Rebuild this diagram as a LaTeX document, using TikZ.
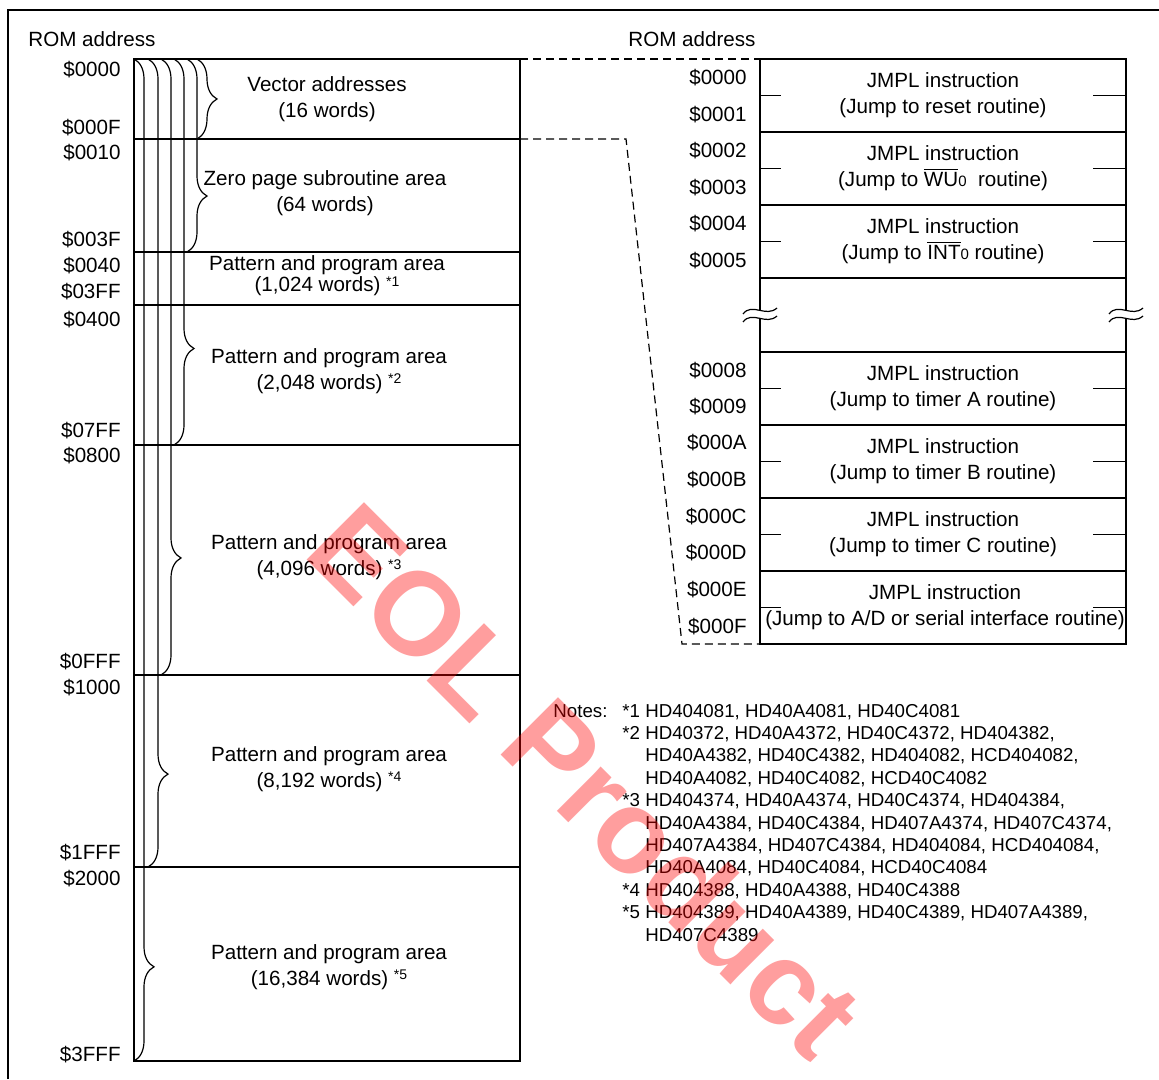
\documentclass[tikz,border=0pt]{standalone}
\usepackage{fontspec}
\setmainfont{Liberation Sans}
\usepackage{tikz}
\usetikzlibrary{decorations.pathreplacing, calc}
\definecolor{eolred}{RGB}{255,0,0}
\newcommand{\romfont}{\fontsize{10.3}{12.8}\selectfont}
\newcommand{\notefont}{\fontsize{9.35}{11.2}\selectfont}
\newcommand{\starref}[1]{\raisebox{0.5ex}{\fontsize{7}{8}\selectfont *#1}}
\newcommand{\smallzero}{{\fontsize{7.5}{8}\selectfont 0}}

\begin{document}
\begin{tikzpicture}[x=0.5pt, y=-0.5pt,
  romline/.style={line width=0.6pt},
  romtext/.style={font=\romfont, align=center, inner sep=0pt},
  addr/.style={font=\romfont, anchor=east, inner sep=0pt},
  areabrace/.style={romline, decorate, decoration={brace, amplitude=10pt, aspect=#1}},
  linkline/.style={romline, dash pattern=on 4pt off 2.5pt},
  tick/.style={romline}]
  \useasboundingbox (0,0) rectangle (1159,1079);
  \draw[line width=1pt] (8,1079) -- (8,10) -- (1159,10);

  \node[font=\romfont, anchor=west, inner sep=0pt] (romleft) at (28,39) {ROM address};
  \node[font=\romfont, anchor=west, inner sep=0pt] (romright) at (628,39) {ROM address};

  % ROM map
  \draw[romline] (134,59) rectangle (520,1061);
  \draw[romline] (134,139) -- (520,139);
  \draw[romline] (134,252) -- (520,252);
  \draw[romline] (134,305) -- (520,305);
  \draw[romline] (134,445) -- (520,445);
  \draw[romline] (134,675) -- (520,675);
  \draw[romline] (134,867) -- (520,867);
  \coordinate (mapne) at (520,59);
  \coordinate (mapvec) at (520,139);

  \draw[areabrace=0.5] (197,59) -- (197,139);
  \draw[areabrace=0.71] (187,59) -- (187,252);
  \draw[areabrace=0.75] (174,59) -- (174,445);
  \draw[areabrace=0.81] (161,59) -- (161,675);
  \draw[areabrace=0.885] (148,59) -- (148,867);
  \draw[areabrace=0.906] (134,59) -- (134,1061);

  \node[romtext] (vec) at (327,99) {Vector addresses\\(16 words)};
  \node[romtext] (zero) at (325,193) {Zero page subroutine area\\(64 words)};
  \node[romtext, font=\fontsize{10.3}{10.5}\selectfont] (pa1) at (327,276) {Pattern and program area\\(1,024 words) \starref{1}};
  \node[romtext] (pa2) at (329,371) {Pattern and program area\\(2,048 words) \starref{2}};
  \node[romtext] (pa3) at (329,557) {Pattern and program area\\(4,096 words) \starref{3}};
  \node[romtext] (pa4) at (329,769) {Pattern and program area\\(8,192 words) \starref{4}};
  \node[romtext] (pa5) at (329,967) {Pattern and program area\\(16,384 words) \starref{5}};

  \node[addr] (m0000) at (121,70) {\$0000};
  \node[addr] (m000F) at (121,128) {\$000F};
  \node[addr] (m0010) at (121,153) {\$0010};
  \node[addr] (m003F) at (121,240) {\$003F};
  \node[addr] (m0040) at (121,266) {\$0040};
  \node[addr] (m03FF) at (121,292) {\$03FF};
  \node[addr] (m0400) at (121,320) {\$0400};
  \node[addr] (m07FF) at (121,431) {\$07FF};
  \node[addr] (m0800) at (121,456) {\$0800};
  \node[addr] (m0FFF) at (121,662) {\$0FFF};
  \node[addr] (m1000) at (121,688) {\$1000};
  \node[addr] (m1FFF) at (121,853) {\$1FFF};
  \node[addr] (m2000) at (121,879) {\$2000};
  \node[addr] (m3FFF) at (121,1055) {\$3FFF};

  % vector table
  \draw[romline] (760,59) rectangle (1126,644);
  \draw[romline] (760,132) -- (1126,132);
  \draw[romline] (760,205) -- (1126,205);
  \draw[romline] (760,278) -- (1126,278);
  \draw[romline] (760,352) -- (1126,352);
  \draw[romline] (760,425) -- (1126,425);
  \draw[romline] (760,498) -- (1126,498);
  \draw[romline] (760,571) -- (1126,571);
  \coordinate (vecnw) at (760,59);
  \coordinate (vecsw) at (760,644);
  \coordinate (bendtop) at (626,139);
  \coordinate (bendbot) at (682,644);

  \foreach \y in {95.5,168.5,241.5,388.5,461.5,534.5,607.5} {
    \draw[tick] (760,\y) -- (781,\y);
    \draw[tick] (1093,\y) -- (1126,\y);
  }

  \foreach \cx in {760,1126} {
    \begin{scope}[shift={(\cx,314)}]
      \fill[white] (-17,0) .. controls (-8,-12) and (6,4) .. (17,-6) -- (17,2) .. controls (6,12) and (-8,-4) .. (-17,8) -- cycle;
      \draw[romline] (-17,0) .. controls (-8,-12) and (6,4) .. (17,-6);
      \draw[romline] (-17,8) .. controls (-8,-4) and (6,12) .. (17,2);
    \end{scope}
  }

  \node[romtext] (jreset) at (943,95) {JMPL instruction\\(Jump to reset routine)};
  \node[romtext] (jwu) at (943,168) {JMPL instruction\\(Jump to $\overline{\mbox{WU}}$\smallzero\ \ routine)};
  \node[romtext] (jint) at (943,241) {JMPL instruction\\(Jump to $\overline{\mbox{INT}}$\smallzero\ routine)};
  \node[romtext] (jta) at (943,388) {JMPL instruction\\(Jump to timer A routine)};
  \node[romtext] (jtb) at (943,461) {JMPL instruction\\(Jump to timer B routine)};
  \node[romtext] (jtc) at (943,534) {JMPL instruction\\(Jump to timer C routine)};
  \node[romtext] (jad) at (945,607) {JMPL instruction\\(Jump to A/D or serial interface routine)};

  \node[addr] (v0000) at (747,78) {\$0000};
  \node[addr] (v0001) at (747,115) {\$0001};
  \node[addr] (v0002) at (747,151) {\$0002};
  \node[addr] (v0003) at (747,188) {\$0003};
  \node[addr] (v0004) at (747,224) {\$0004};
  \node[addr] (v0005) at (747,261) {\$0005};
  \node[addr] (v0008) at (747,371) {\$0008};
  \node[addr] (v0009) at (747,407) {\$0009};
  \node[addr] (v000A) at (747,443) {\$000A};
  \node[addr] (v000B) at (747,480) {\$000B};
  \node[addr] (v000C) at (747,517) {\$000C};
  \node[addr] (v000D) at (747,553) {\$000D};
  \node[addr] (v000E) at (747,590) {\$000E};
  \node[addr] (v000F) at (747,627) {\$000F};

  \draw[linkline] (mapne) -- (vecnw);
  \draw[linkline] (mapvec) -- (bendtop) -- (bendbot) -- (vecsw);

  % notes
  \node[font=\notefont, anchor=north west, inner sep=0pt] (notes) at (553,701) {\strut Notes:};
  \node[font=\notefont, anchor=north west, inner sep=0pt] (notelist) at (622,701) {%
    \begin{tabular}{@{}l@{\ }l@{}}
      {*}1 & HD404081, HD40A4081, HD40C4081\\
      {*}2 & HD40372, HD40A4372, HD40C4372, HD404382,\\
         & HD40A4382, HD40C4382, HD404082, HCD404082,\\
         & HD40A4082, HD40C4082, HCD40C4082\\
      {*}3 & HD404374, HD40A4374, HD40C4374, HD404384,\\
         & HD40A4384, HD40C4384, HD407A4374, HD407C4374,\\
         & HD407A4384, HD407C4384, HD404084, HCD404084,\\
         & HD40A4084, HD40C4084, HCD40C4084\\
      {*}4 & HD404388, HD40A4388, HD40C4388\\
      {*}5 & HD404389, HD40A4389, HD40C4389, HD407A4389,\\
         & HD407C4389
    \end{tabular}};

  \node[rotate=-45, text=eolred, text opacity=0.38, font=\fontsize{59}{59}\selectfont\bfseries] (eol) at (586,780) {EOL Product};
\end{tikzpicture}
\end{document}
